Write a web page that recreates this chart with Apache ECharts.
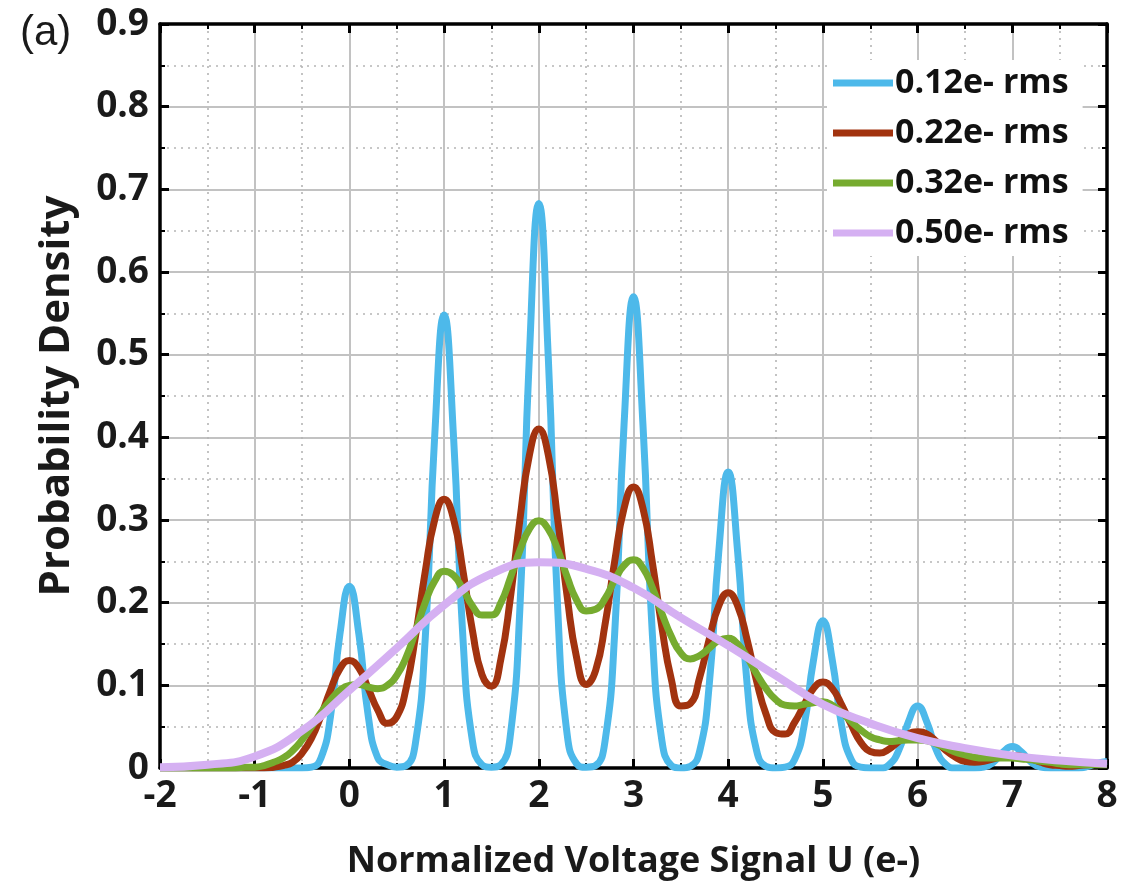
<!DOCTYPE html>
<html>
<head>
<meta charset="utf-8">
<script src="https://cdn.jsdelivr.net/npm/echarts@6/dist/echarts.min.js"></script>
<style>
html,body{margin:0;padding:0;background:#fff;}
#chart{width:1139px;height:888px;}
</style>
</head>
<body>
<div id="chart"></div>
<script>
// ---- data ----
var seriesNames = ['0.12e- rms', '0.22e- rms', '0.32e- rms', '0.50e- rms'];
var xTickMin = -2, xTickMax = 8, yTickMax = 0.9;

var xs = [-2,-1.9,-1.8,-1.7,-1.6,-1.5,-1.4,-1.3,-1.2,-1.1,
          -1,-0.9,-0.8,-0.7,-0.6,-0.5,-0.4,-0.3,-0.2,-0.1,
          0,0.1,0.2,0.3,0.4,0.5,0.6,0.7,0.8,0.9,
          1,1.1,1.2,1.3,1.4,1.5,1.6,1.7,1.8,1.9,
          2,2.1,2.2,2.3,2.4,2.5,2.6,2.7,2.8,2.9,
          3,3.1,3.2,3.3,3.4,3.5,3.6,3.7,3.8,3.9,
          4,4.1,4.2,4.3,4.4,4.5,4.6,4.7,4.8,4.9,
          5,5.1,5.2,5.3,5.4,5.5,5.6,5.7,5.8,5.9,
          6,6.1,6.2,6.3,6.4,6.5,6.6,6.7,6.8,6.9,
          7,7.1,7.2,7.3,7.4,7.5,7.6,7.7,7.8,7.9,
          8];

var blue = [0,0,0,0,0,0,0,0,0,0,
            0,0,0,0,0,0,0.001,0.012,0.062,0.162,
            0.220,0.162,0.062,0.012,0.004,0.001,0.003,0.032,0.155,0.400,
            0.548,0.400,0.155,0.032,0.004,0.001,0.004,0.040,0.192,0.497,
            0.683,0.497,0.192,0.040,0.005,0.001,0.003,0.033,0.160,0.415,
            0.570,0.415,0.160,0.033,0.003,0,0.002,0.021,0.101,0.261,
            0.358,0.261,0.101,0.021,0.002,0,0.001,0.010,0.050,0.130,
            0.178,0.130,0.050,0.010,0.001,0,0,0.004,0.021,0.055,
            0.075,0.055,0.021,0.004,0,0,0,0.001,0.007,0.019,
            0.026,0.019,0.007,0.001,0,0,0,0,0.002,0.006,
            0.008];

var brown = [0,0,0,0,0,0,0,0,0,0,
             0,0,0.001,0.003,0.007,0.018,0.036,0.063,0.094,0.120,
             0.130,0.121,0.096,0.070,0.054,0.062,0.097,0.161,0.237,0.300,
             0.325,0.301,0.238,0.166,0.113,0.099,0.132,0.206,0.300,0.378,
             0.410,0.379,0.300,0.207,0.133,0.101,0.118,0.174,0.249,0.314,
             0.340,0.314,0.248,0.170,0.107,0.075,0.078,0.110,0.156,0.196,
             0.212,0.196,0.155,0.105,0.065,0.043,0.041,0.055,0.076,0.096,
             0.104,0.096,0.076,0.052,0.031,0.020,0.018,0.023,0.032,0.041,
             0.044,0.041,0.032,0.021,0.013,0.008,0.007,0.008,0.011,0.014,
             0.015,0.014,0.011,0.007,0.004,0.003,0.002,0.003,0.004,0.005,
             0.005];

var green = [0,0,0,0,0,0,0,0,0,0.001,
             0.001,0.003,0.007,0.012,0.021,0.034,0.050,0.067,0.082,0.094,
             0.100,0.101,0.098,0.096,0.100,0.112,0.134,0.166,0.200,0.226,
             0.238,0.233,0.216,0.196,0.185,0.185,0.200,0.230,0.263,0.289,
             0.299,0.289,0.264,0.231,0.203,0.190,0.192,0.205,0.227,0.245,
             0.252,0.242,0.218,0.187,0.159,0.139,0.132,0.136,0.145,0.154,
             0.157,0.150,0.134,0.114,0.096,0.083,0.076,0.075,0.077,0.079,
             0.080,0.076,0.067,0.056,0.046,0.038,0.034,0.032,0.033,0.034,
             0.034,0.033,0.029,0.024,0.019,0.016,0.013,0.012,0.012,0.012,
             0.012,0.011,0.010,0.008,0.007,0.005,0.004,0.004,0.004,0.004,
             0.004];

var purpleX = [-2,-1.5,-1,-0.5,0,0.5,1,1.5,2,2.5,3,3.5,4,4.5,5,5.5,6,6.5,7,7.5,8];
var purple  = [0.001,0.004,0.014,0.045,0.094,0.145,0.197,0.235,0.249,0.241,0.218,0.182,0.148,0.112,0.077,0.054,0.036,0.024,0.015,0.009,0.005];

// ---- chart ----
function pairs(x, y) { return x.map(function (v, i) { return [v, y[i]]; }); }

var colors = ['#4DB9EA', '#A2330F', '#76AB2F', '#D5B0F2'];
var FONT = 'Open Sans';

function axisCommon(showLabels, pos, isX) {
  return {
    type: 'value',
    position: pos,
    min: isX ? xTickMin : 0,
    max: isX ? xTickMax : yTickMax,
    interval: isX ? 1 : 0.1,
    axisLine: { show: true, onZero: false, lineStyle: { color: '#000', width: 3.5 } },
    axisTick: { show: true, inside: true, length: 9, lineStyle: { color: '#000', width: 3 } },
    minorTick: { show: true, splitNumber: 2, length: 5, lineStyle: { color: '#000', width: 2 } },
    splitLine: { show: showLabels, lineStyle: { color: '#c2c2c2', width: 2 } },
    minorSplitLine: { show: showLabels, lineStyle: { color: '#b5b5b5', width: 1.6, type: [2, 5] } },
    axisLabel: {
      show: showLabels,
      fontFamily: FONT, fontWeight: 'bold', fontSize: 37, color: '#1a1a1a',
      margin: isX ? 10 : 11
    }
  };
}

var xBottom = axisCommon(true, 'bottom', true);
xBottom.name = 'Normalized Voltage Signal U (e-)';
xBottom.nameLocation = 'middle';
xBottom.nameGap = 76;
xBottom.nameTextStyle = { fontFamily: FONT, fontWeight: 'bold', fontSize: 36, color: '#1a1a1a' };
var xTop = axisCommon(false, 'top', true);

var yLeft = axisCommon(true, 'left', false);
yLeft.name = 'Probability Density';
yLeft.nameLocation = 'middle';
yLeft.nameGap = 82;
yLeft.nameTextStyle = { fontFamily: FONT, fontWeight: 'bold', fontSize: 42, color: '#1a1a1a' };
var yRight = axisCommon(false, 'right', false);

var ys = [blue, brown, green];
var series = [];
for (var i = 0; i < 3; i++) {
  series.push({
    name: seriesNames[i], type: 'line', data: pairs(xs, ys[i]),
    xAxisIndex: 0, yAxisIndex: 0,
    showSymbol: false, smooth: 0.5, clip: true,
    lineStyle: { color: colors[i], width: 7 },
    itemStyle: { color: colors[i] },
    z: 3 + i
  });
}
series.push({
  name: seriesNames[3], type: 'line', data: pairs(purpleX, purple),
  xAxisIndex: 0, yAxisIndex: 0,
  showSymbol: false, smooth: 0.5, clip: true,
  lineStyle: { color: colors[3], width: 8 },
  itemStyle: { color: colors[3] },
  z: 6
});

var chart = echarts.init(document.getElementById('chart'), null, { renderer: 'canvas' });
chart.setOption({
  animation: false,
  backgroundColor: '#fff',
  grid: { left: 160, right: 32, top: 24, bottom: 120, containLabel: false },
  xAxis: [xBottom, xTop],
  yAxis: [yLeft, yRight],
  legend: {
    orient: 'vertical',
    left: 827, top: 60,
    backgroundColor: '#fff',
    padding: [6, 14, 6, 6],
    itemWidth: 60, itemHeight: 7, itemGap: 16,
    icon: 'rect',
    textStyle: { fontFamily: FONT, fontWeight: 'bold', fontSize: 34, color: '#111', padding: [0, 0, 0, -3] },
    data: seriesNames
  },
  graphic: [{
    type: 'text', left: 20, top: 12,
    style: { text: '(a)', font: '42px "Liberation Sans", Arial, sans-serif', fill: '#1a1a1a' }
  }],
  series: series
});
</script>
</body>
</html>
